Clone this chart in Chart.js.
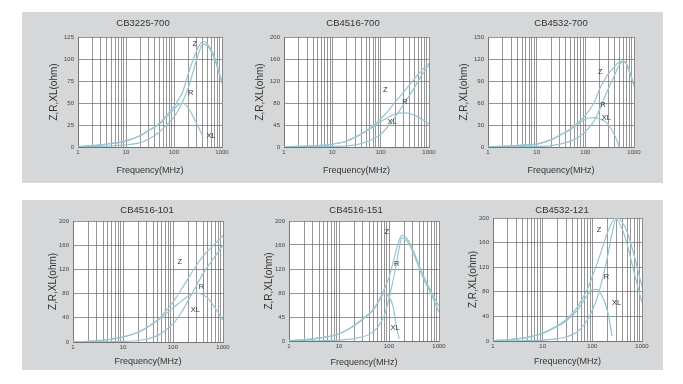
<!DOCTYPE html>
<html><head><meta charset="utf-8">
<script src="https://cdn.jsdelivr.net/npm/chart.js@4/dist/chart.umd.min.js"></script>
<style>
html,body{margin:0;padding:0;background:#fff;width:683px;height:384px;overflow:hidden;position:relative}
.panel{position:absolute;background:#d5d7d9}
canvas{position:absolute}
</style></head><body>
<div class="panel" style="left:22px;top:12px;width:641px;height:171px"></div>
<div class="panel" style="left:22px;top:200px;width:641px;height:170px"></div>
<canvas id="c0"></canvas><canvas id="c1"></canvas><canvas id="c2"></canvas>
<canvas id="c3"></canvas><canvas id="c4"></canvas><canvas id="c5"></canvas>
<script>
// ---------- data ----------
const titles = ['CB3225-700','CB4516-700','CB4532-700','CB4516-101','CB4516-151','CB4532-121'];
const xTickLabels = ['1','10','100','1000'];

const freq1 = [1,2,3,5,10,20,30,50,70,100,130,150,200,300,400,500,700,1000];
const z1  = [0.5,1.5,2.5,4,7,13,19,27,36,46,56,62,84,110,120,117,102,74];
const r1  = [0.2,0.4,0.7,1.2,2.5,5,9,17,25,34,44,51,68,100,117,115,100,72];
const xl1 = [0.5,1.5,2.5,4,7,13,19,26,34,43,49,50,44,26,12,null,null,null];
const yLabels1 = ['0','25','50','75','100','125'];

const freq2 = [1,2,3,5,10,20,30,50,70,100,150,200,300,500,700,1000];
const z2  = [0.3,1,1.5,2.5,5,11,18,29,39,51,68,82,100,124,139,152];
const r2  = [0,0.1,0.2,0.4,0.8,2,4,9,15,23,40,55,78,108,130,149];
const xl2 = [0.3,1,1.5,2.5,5,11,18,28,37,46,55,60,62,58,51,42];
const yLabels2 = ['0','45','80','120','160','200'];

const freq3 = [1,2,3,5,10,20,30,50,70,100,150,200,250,300,400,500,600,700,1000];
const z3  = [0.3,1,1.5,2.5,4,10,16,25,33,43,60,80,92,100,110,116,117,114,85];
const r3  = [0,0.1,0.2,0.4,0.8,2,4,8,13,21,35,52,68,80,98,112,116,113,83];
const xl3 = [0.3,1,1.5,2.5,4,10,16,24,31,38,40,38,35,30,16,0,null,null,null];
const yLabels3 = ['0','30','60','90','120','150'];

const freq4 = [1,2,3,5,10,20,30,50,70,100,150,200,280,400,500,700,1000];
const z4  = [0.3,1,2,4,8,16,24,37,50,66,88,105,124,142,151,163,176];
const r4  = [0,0.1,0.2,0.4,1,2.5,5,11,19,30,50,68,90,113,125,142,160];
const xl4 = [0.3,1,2,4,8,16,24,36,46,56,68,76,81,78,72,56,36];
const yLabels4 = ['0','40','80','120','160','200'];

const freq5 = [1,2,3,5,10,20,30,50,70,80,100,120,140,160,180,250,300,500,700,1000];
const z5  = [0.5,2,3.5,6,12,26,37,54,76,86,106,130,152,168,176,166,152,107,82,58];
const r5  = [0,0.1,0.3,0.6,1.5,4,7,16,32,42,70,100,128,155,172,162,148,102,78,48];
const xl5 = [0.5,2,3.5,6,12,25,36,53,73,79,74,58,25,3,null,null,null,null,null,null];
const yLabels5 = ['0','45','80','120','160','200'];

const freq6 = [1,2,3,5,10,20,30,50,80,100,120,150,200,250,300,400,500,700,1000];
const z6  = [0.5,2,3.5,6,13,25,35,55,85,105,122,145,175,193,200,193,178,138,88];
const r6  = [0,0.1,0.3,0.6,1.5,4,7,15,35,50,66,92,135,175,198,182,158,110,62];
const xl6 = [0.5,2,3.5,6,12.5,24,33,50,75,83,84,76,50,8,null,null,null,null,null];
const yLabels6 = ['0','40','80','120','160','200'];

const yMaxes = [125,200,150,200,200,200];

// curve tags: [text, frequency, value]
const tags = [
  [['Z',272,117],['R',224,61],['XL',594,13]],
  [['Z',125,103],['R',317,82],['XL',173,45]],
  [['Z',204,103],['R',229,58],['XL',270,40]],
  [['Z',136,132],['R',372,91],['XL',281,53]],
  [['Z',90,182],['R',142,128],['XL',132,21]],
  [['Z',136,180],['R',193,104],['XL',307,62]]
];

const series = [
  [freq1,z1,r1,xl1,yLabels1],[freq2,z2,r2,xl2,yLabels2],[freq3,z3,r3,xl3,yLabels3],
  [freq4,z4,r4,xl4,yLabels4],[freq5,z5,r5,xl5,yLabels5],[freq6,z6,r6,xl6,yLabels6]
];

// ---------- layout (plot area edges, title centre, y-title offset, x-title centre) ----------
const frames = [
  {L:78, T:37, R:222,B:147,tx:143,ty:23, yt:24,xt:171},
  {L:284,T:37, R:429,B:147,tx:353,ty:23, yt:24,xt:171},
  {L:488,T:37, R:634,B:147,tx:561,ty:23, yt:24,xt:171},
  {L:73, T:221,R:223,B:342,tx:147,ty:210,yt:20,xt:361.5},
  {L:289,T:221,R:439,B:341,tx:356,ty:210,yt:20,xt:363},
  {L:493,T:218,R:642,B:341,tx:562,ty:210,yt:20,xt:361.5}
];

const FONT = '"Liberation Sans", Arial, sans-serif';
const LINE = '#98c4cf';
const GRID = 'rgba(105,105,105,0.7)';
const YW = 34;

const plotBg = {id:'plotBg', beforeDraw(chart){
  const {ctx, chartArea:a} = chart;
  ctx.save(); ctx.fillStyle='#ffffff';
  ctx.fillRect(a.left,a.top,a.right-a.left,a.bottom-a.top); ctx.restore();
}};
const curveTags = {id:'curveTags', afterDatasetsDraw(chart, args, opts){
  const {ctx, scales:{x,y}} = chart;
  ctx.save(); ctx.font = '7.5px ' + FONT; ctx.fillStyle='#333';
  ctx.textAlign='center'; ctx.textBaseline='middle';
  (opts.items||[]).forEach(t => ctx.fillText(t[0], x.getPixelForValue(t[1]), y.getPixelForValue(t[2])));
  ctx.restore();
}};
const chartTitle = {id:'chartTitle', afterDraw(chart, args, opts){
  const ctx = chart.ctx;
  ctx.save(); ctx.font = '9.5px ' + FONT; ctx.fillStyle='#333';
  ctx.textAlign='center'; ctx.textBaseline='middle';
  ctx.fillText(opts.text, opts.x, opts.y);
  ctx.restore();
}};

const gridVals = [];
[1,10,100].forEach(d => { for (let k=1;k<10;k++) gridVals.push(k*d); });
gridVals.push(1000);

series.forEach((s, i) => {
  const [freq, z, r, xl, yl] = s;
  const f = frames[i];
  const left = f.L - YW, top = f.T - 26;
  const padRight = 14;
  const width = f.R - left + padRight;
  const bottom = Math.round(f.xt + 8);
  const height = bottom - top;
  const cv = document.getElementById('c'+i);
  cv.width = width; cv.height = height;
  cv.style.left = left+'px'; cv.style.top = top+'px';
  const xh = bottom - f.B;
  const step = yMaxes[i]/5;
  const mk = (arr) => freq.map((fv,k)=>({x:fv, y:arr[k]}));
  const ds = (arr) => ({data:mk(arr), borderColor:LINE, borderWidth:1.2, pointRadius:0,
                       cubicInterpolationMode:'monotone', fill:false, spanGaps:false});
  new Chart(cv, {
    type:'line',
    data:{datasets:[ds(z), ds(r), ds(xl)]},
    options:{
      responsive:false, animation:false, devicePixelRatio:1,
      layout:{padding:{left:0,top:f.T-top,bottom:0,right:padRight}},
      plugins:{
        legend:{display:false}, tooltip:{enabled:false}, title:{display:false},
        chartTitle:{text:titles[i], x:f.tx-left, y:f.ty-top},
        curveTags:{items:tags[i]}
      },
      scales:{
        x:{type:'logarithmic', min:1, max:1000,
           afterBuildTicks(sc){ sc.ticks = gridVals.map(v=>({value:v})); },
           afterFit(sc){ sc.height = xh; },
           grid:{color:GRID, lineWidth:1, drawTicks:false},
           border:{color:GRID},
           ticks:{autoSkip:false, maxRotation:0, padding:2, color:'#444',
                  font:{family:FONT,size:6},
                  callback:(v)=>{ const k = xTickLabels.indexOf(String(v)); return k>=0 ? xTickLabels[k] : ''; }},
           title:{display:true, text:'Frequency(MHz)', color:'#333',
                  font:{family:FONT,size:9,lineHeight:1.2},
                  padding:{top:0,bottom:bottom - f.xt - 5.4}}},
        y:{type:'linear', min:0, max:yMaxes[i],
           afterFit(sc){ sc.width = YW; },
           grid:{color:GRID, lineWidth:1, drawTicks:false},
           border:{color:GRID},
           ticks:{stepSize:step, padding:4, color:'#444', font:{family:FONT,size:6},
                  callback:(v)=> yl[Math.round(v/step)]},
           title:{display:true, text:'Z,R,XL(ohm)', color:'#333',
                  font:{family:FONT,size:10,lineHeight:1.2},
                  padding:{top:(YW - f.yt) - 6, bottom:0}}}
      }
    },
    plugins:[plotBg, curveTags, chartTitle]
  });
});
</script>
</body></html>
